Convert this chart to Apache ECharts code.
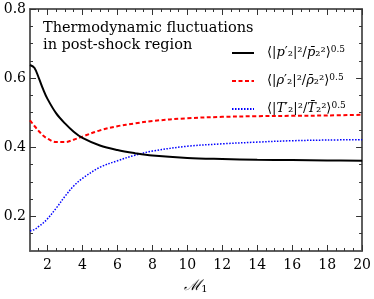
<!DOCTYPE html>
<html><head><meta charset="utf-8">
<script src="https://cdn.jsdelivr.net/npm/echarts@6/dist/echarts.min.js"></script>
<style>html,body{margin:0;padding:0;background:#fff}#c{width:374px;height:299px}</style>
</head><body><div id="c"></div>
<script>
const machNumbers = [1, 1.25, 1.5, 1.75, 2, 2.5, 3, 3.5, 4, 5, 6, 7, 8, 10, 12, 14, 16, 18, 20];
const pressureFluct = [0.638, 0.630, 0.601, 0.568, 0.540, 0.498, 0.469, 0.445, 0.427, 0.405, 0.392, 0.383, 0.376, 0.369, 0.366, 0.364, 0.363, 0.362, 0.361];
const densityFluct = [0.478, 0.462, 0.447, 0.434, 0.425, 0.415, 0.415, 0.422, 0.431, 0.449, 0.461, 0.469, 0.476, 0.484, 0.488, 0.490, 0.491, 0.492, 0.494];
const temperatureFluct = [0.158, 0.162, 0.171, 0.181, 0.193, 0.224, 0.258, 0.288, 0.310, 0.342, 0.361, 0.377, 0.389, 0.403, 0.410, 0.415, 0.419, 0.421, 0.422];
const xTickLabels = [2, 4, 6, 8, 10, 12, 14, 16, 18, 20];
const xMinorTicks = [1.5, 2.5, 3, 3.5, 4.5, 5, 5.5, 6.5, 7, 7.5, 8.5, 9, 9.5, 10.5, 11, 11.5, 12.5, 13, 13.5, 14.5, 15, 15.5, 16.5, 17, 17.5, 18.5, 19, 19.5];
const yTickLabels = [0.2, 0.4, 0.6, 0.8];
const yMinorTicks = [0.15, 0.25, 0.3, 0.35, 0.45, 0.5, 0.55, 0.65, 0.7, 0.75];
const seriesNames = ['p', 'rho', 'T'];
const titleLines = ['Thermodynamic fluctuations', 'in post-shock region'];

const FONT = 'DejaVu Serif';
const frameColor = '#555';
function pairs(ys){ return machNumbers.map((x,i)=>[x, ys[i]]); }

function xAxisDef(pos, ticks, len, labels){
  return {type:'value', position:pos, min:1, max:20, gridIndex:0,
    axisLine:{show:true, lineStyle:{color:frameColor, width:1.5}},
    axisTick:{show:true, inside:true, length:len, customValues:ticks, lineStyle:{color:'#333', width:1}},
    axisLabel:{show:!!labels, customValues:ticks, color:'#000', fontFamily:FONT, fontSize:14, margin:7},
    splitLine:{show:false}};
}
function yAxisDef(pos, ticks, len, labels){
  return {type:'value', position:pos, min:0.1, max:0.8, gridIndex:0,
    axisLine:{show:true, lineStyle:{color:frameColor, width:1.5}},
    axisTick:{show:true, inside:true, length:len, customValues:ticks, lineStyle:{color:'#333', width:1}},
    axisLabel:{show:!!labels, customValues:ticks, color:'#000', fontFamily:FONT, fontSize:14, margin:4,
      formatter:v=>v.toFixed(1)},
    splitLine:{show:false}};
}

const legendRich = {
  sp:{width:8},
  m:{fontFamily:FONT, fontSize:13, color:'#000'},
  i:{fontFamily:FONT, fontSize:13, fontStyle:'italic', color:'#000'},
  s:{fontFamily:FONT, fontSize:9, color:'#000', verticalAlign:'top', padding:[0,0,7,0]}
};
const legendText = {
  p:'{sp|}{m|⟨|}{i|p}{m|′₂|²/}{i|p̄}{m|₂²⟩}{s|0.5}',
  rho:'{sp|}{m|⟨|}{i|ρ}{m|′₂|²/}{i|ρ̄}{m|₂²⟩}{s|0.5}',
  T:'{sp|}{m|⟨|}{i|T}{m|′₂|²/}{i|T̄}{m|₂²⟩}{s|0.5}'
};

const xA = xAxisDef('bottom', xTickLabels, 6, true);
xA.name = '{m|ℳ}{s|1}';
xA.nameLocation = 'middle';
xA.nameGap = 27;
xA.nameTextStyle = {rich:{m:{fontFamily:FONT, fontSize:15, fontStyle:'italic', color:'#000'}, s:{fontFamily:FONT, fontSize:10, color:'#000', padding:[6,0,0,0]}}};

const option = {
  animation:false,
  backgroundColor:'#fff',
  grid:{left:30, right:11.5, top:9, bottom:42.5},
  title:{text:titleLines.join('\n'), left:43, top:20, padding:0,
    textStyle:{fontFamily:FONT, fontSize:14.5, fontWeight:'normal', color:'#000', lineHeight:17}},
  legend:{orient:'vertical', left:226, top:40, itemWidth:22, itemHeight:10, itemGap:13.5,
    data:seriesNames, itemStyle:{opacity:0},
    formatter:n=>legendText[n], textStyle:{rich:legendRich}},
  xAxis:[
    xA,
    xAxisDef('bottom', xMinorTicks, 3, false),
    xAxisDef('top', xTickLabels, 6, false),
    xAxisDef('top', xMinorTicks, 3, false)
  ],
  yAxis:[
    yAxisDef('left', yTickLabels, 6, true),
    yAxisDef('left', yMinorTicks, 3, false),
    yAxisDef('right', yTickLabels, 6, false),
    yAxisDef('right', yMinorTicks, 3, false)
  ],
  series:[
    {name:'p', type:'line', data:pairs(pressureFluct), smooth:0.35, symbol:'none',
      lineStyle:{color:'#000', width:2}, itemStyle:{color:'#000'}, z:3},
    {name:'rho', type:'line', data:pairs(densityFluct), smooth:0.35, symbol:'none',
      lineStyle:{color:'#ff0000', width:2, type:[4,2.5]}, itemStyle:{color:'#ff0000'}, z:2},
    {name:'T', type:'line', data:pairs(temperatureFluct), smooth:0.35, symbol:'none',
      lineStyle:{color:'#0000ff', width:1.5, type:[1.5,1.5]}, itemStyle:{color:'#0000ff'}, z:1}
  ]
};
const chart = echarts.init(document.getElementById('c'), null, {renderer:'canvas'});
chart.setOption(option);
</script></body></html>
